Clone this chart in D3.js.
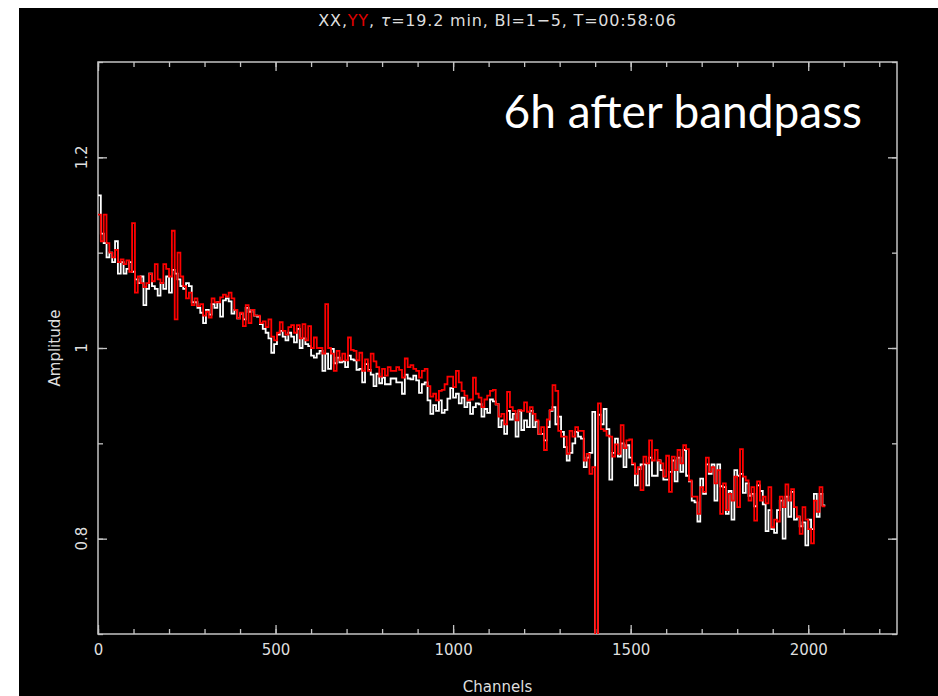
<!DOCTYPE html>
<meta charset="utf-8">
<style>
  body { margin: 0; background: #fff; }
  text { font-family: "DejaVu Sans", sans-serif; }
</style>
<script src="https://d3js.org/d3.v7.min.js"></script>
<div id="chart"></div>
<script>
  // channel bins: each value covers binWidth channels, starting at channel 0
  var binWidth = 8;
  var xxValues = [
    1.16, 1.12, 1.11, 1.095, 1.1, 1.09, 1.112, 1.078, 1.09, 1.078,
    1.083, 1.09, 1.08, 1.072, 1.068, 1.075, 1.045, 1.062, 1.078, 1.065,
    1.062, 1.055, 1.068, 1.062, 1.075, 1.058, 1.082, 1.078, 1.072, 1.065,
    1.062, 1.068, 1.065, 1.048, 1.048, 1.042, 1.037, 1.026, 1.04, 1.035,
    1.046, 1.042, 1.048, 1.033, 1.05, 1.052, 1.049, 1.036, 1.04, 1.031,
    1.036, 1.03, 1.042, 1.038, 1.04, 1.034, 1.033, 1.025, 1.02, 1.016,
    1.01, 0.995, 1.004, 1.014, 1.018, 1.012, 1.008, 1.016, 1.012, 1.006,
    1.02, 1.0, 1.01, 1.004, 1.002, 0.992, 0.99, 0.994, 0.997, 0.976,
    0.994, 0.978, 0.999, 0.984, 0.99, 0.985, 0.986, 0.98, 0.992, 0.988,
    0.987, 0.977, 0.978, 0.964, 0.983, 0.977, 0.972, 0.96, 0.973, 0.963,
    0.969, 0.962, 0.962, 0.968, 0.968, 0.964, 0.964, 0.952, 0.972, 0.968,
    0.967, 0.971, 0.966, 0.953, 0.962, 0.964, 0.945, 0.931, 0.94, 0.934,
    0.945, 0.932, 0.935, 0.947, 0.958, 0.948, 0.952, 0.942, 0.948, 0.938,
    0.943, 0.931, 0.938, 0.942, 0.941, 0.928, 0.936, 0.932, 0.946, 0.944,
    0.941, 0.917, 0.924, 0.91, 0.934, 0.925, 0.931, 0.907, 0.934, 0.914,
    0.924, 0.917, 0.934, 0.917, 0.923, 0.91, 0.91, 0.903, 0.917, 0.934,
    0.938, 0.92, 0.928, 0.912, 0.896, 0.882, 0.89, 0.9, 0.912, 0.907,
    0.905, 0.875, 0.885, 0.89, 0.933, 0.6, 0.93, 0.92, 0.936, 0.915,
    0.862, 0.89, 0.905, 0.886, 0.9, 0.875, 0.898, 0.885, 0.878, 0.856,
    0.873, 0.878, 0.878, 0.856, 0.885, 0.866, 0.866, 0.882, 0.872, 0.862,
    0.862, 0.87, 0.882, 0.86, 0.885, 0.87, 0.893, 0.866, 0.86, 0.84,
    0.838, 0.818, 0.863, 0.847, 0.878, 0.868, 0.878, 0.84, 0.878, 0.855,
    0.854, 0.826, 0.85, 0.82, 0.872, 0.866, 0.868, 0.848, 0.858, 0.845,
    0.847, 0.834, 0.856, 0.85, 0.836, 0.808, 0.83, 0.81, 0.806, 0.83,
    0.84, 0.8, 0.844, 0.823, 0.849, 0.82, 0.823, 0.813, 0.817, 0.793,
    0.82, 0.81, 0.847, 0.823, 0.847, 0.835
  ];
  var yyValues = [
    1.14, 1.112, 1.14, 1.11, 1.1, 1.095, 1.103, 1.09, 1.093, 1.088,
    1.092, 1.08, 1.131, 1.058, 1.075, 1.068, 1.064, 1.068, 1.078, 1.07,
    1.088, 1.072, 1.068, 1.088, 1.083, 1.075, 1.123, 1.03, 1.1, 1.075,
    1.065, 1.052, 1.058, 1.045, 1.052, 1.044, 1.046, 1.034, 1.038, 1.032,
    1.052, 1.048, 1.048, 1.053, 1.056, 1.054, 1.058, 1.052, 1.04, 1.031,
    1.037, 1.023, 1.045, 1.026, 1.04, 1.034, 1.034, 1.026, 1.028, 1.022,
    1.03, 1.012, 1.008, 1.016, 1.027, 1.018, 1.014, 1.022, 1.024, 1.016,
    1.024, 1.01, 1.025, 1.008, 1.023, 1.0, 1.011, 1.0, 1.0, 0.994,
    1.046, 1.0, 0.994, 0.976, 0.997, 0.987, 0.994, 0.987, 1.011, 0.998,
    0.997, 0.987, 0.995, 0.976, 0.988, 0.976, 0.994, 0.986, 0.98, 0.97,
    0.978, 0.971, 0.98, 0.976, 0.976, 0.98, 0.977, 0.969, 0.989, 0.98,
    0.982, 0.978, 0.976, 0.969, 0.976, 0.978, 0.96, 0.949, 0.952, 0.945,
    0.955, 0.956, 0.962, 0.97, 0.97, 0.959, 0.976, 0.964, 0.955, 0.95,
    0.945, 0.946, 0.969, 0.952, 0.948, 0.938, 0.946, 0.95, 0.955, 0.956,
    0.941, 0.928, 0.931, 0.92, 0.954, 0.938, 0.934, 0.924, 0.935, 0.934,
    0.943, 0.933, 0.938, 0.931, 0.924, 0.91, 0.917, 0.893, 0.925, 0.935,
    0.961, 0.955, 0.913, 0.907, 0.907, 0.889, 0.913, 0.907, 0.917, 0.913,
    0.913, 0.882, 0.889, 0.868, 0.875, 0.6, 0.942, 0.915, 0.913, 0.908,
    0.907, 0.886, 0.899, 0.889, 0.919, 0.895, 0.903, 0.904, 0.879, 0.868,
    0.875, 0.851, 0.886, 0.879, 0.903, 0.882, 0.893, 0.882, 0.879, 0.865,
    0.887, 0.849, 0.886, 0.872, 0.893, 0.879, 0.898, 0.894, 0.861, 0.844,
    0.844, 0.826, 0.854, 0.849, 0.885, 0.87, 0.875, 0.858, 0.872, 0.826,
    0.858, 0.83, 0.847, 0.84, 0.865, 0.833, 0.894, 0.865, 0.861, 0.84,
    0.854, 0.819, 0.86, 0.84, 0.844, 0.837, 0.854, 0.812, 0.82, 0.818,
    0.844, 0.833, 0.857, 0.84, 0.852, 0.833, 0.823, 0.805, 0.833, 0.82,
    0.81, 0.795, 0.84, 0.828, 0.854, 0.834
  ];
  var xMajorTicks = [0, 500, 1000, 1500, 2000];
  var yMajorTicks = [0.8, 1, 1.2];
  var yMinorTicks = [0.7, 0.8, 0.9, 1, 1.1, 1.2, 1.3];

  var W = 938, H = 696;
  var margin = { top: 62, right: 41, bottom: 62, left: 98 },
    width = W - margin.left - margin.right,
    height = H - margin.top - margin.bottom;

  var axisColor = "#c4c4c4", textColor = "#dedede";

  var root = d3.select("#chart").append("svg")
    .attr("width", W)
    .attr("height", H);

  // black slide background (white strip top / left)
  root.append("rect")
    .attr("x", 19).attr("y", 8)
    .attr("width", W - 19).attr("height", H - 8)
    .attr("fill", "#000");

  var svg = root.append("g")
    .attr("transform", "translate(" + margin.left + "," + margin.top + ")");

  var x = d3.scaleLinear().domain([0, 2250]).range([0, width]);
  var y = d3.scaleLinear().domain([0.7, 1.3]).range([height, 0]);

  svg.append("clipPath").attr("id", "clip")
    .append("rect").attr("width", width).attr("height", height);

  // ticks on all four sides, pointing inward
  function styleAxis(g) {
    g.select(".domain").remove();
    g.selectAll(".tick line").attr("stroke", axisColor).attr("stroke-width", 1.3);
    g.selectAll(".tick text").attr("fill", textColor)
      .style("font-size", "15px").style("font-family", "DejaVu Sans, sans-serif");
  }
  var xMinor = d3.range(0, 2251, 100);

  svg.append("g").attr("transform", "translate(0," + height + ")")
    .call(d3.axisBottom(x).tickValues(xMinor).tickSize(-5).tickFormat(""))
    .call(styleAxis);
  svg.append("g").attr("transform", "translate(0," + height + ")")
    .call(d3.axisBottom(x).tickValues(xMajorTicks).tickSize(-9).tickPadding(10).tickFormat(d3.format("d")))
    .call(styleAxis);
  svg.append("g")
    .call(d3.axisTop(x).tickValues(xMinor).tickSize(-5).tickFormat(""))
    .call(styleAxis);
  svg.append("g")
    .call(d3.axisTop(x).tickValues(xMajorTicks).tickSize(-9).tickFormat(""))
    .call(styleAxis);

  svg.append("g")
    .call(d3.axisLeft(y).tickValues(yMinorTicks).tickSize(-5).tickFormat(""))
    .call(styleAxis);
  svg.append("g")
    .call(d3.axisLeft(y).tickValues(yMajorTicks).tickSize(-9).tickFormat(""))
    .call(styleAxis);
  svg.append("g").attr("transform", "translate(" + width + ",0)")
    .call(d3.axisRight(y).tickValues(yMinorTicks).tickSize(-5).tickFormat(""))
    .call(styleAxis);
  svg.append("g").attr("transform", "translate(" + width + ",0)")
    .call(d3.axisRight(y).tickValues(yMajorTicks).tickSize(-9).tickFormat(""))
    .call(styleAxis);

  // rotated y tick labels
  svg.selectAll(".ylab")
    .data(yMajorTicks)
    .enter().append("text")
    .attr("class", "ylab")
    .attr("transform", function (d) { return "translate(-11," + y(d) + ") rotate(-90)"; })
    .attr("text-anchor", "middle")
    .attr("fill", textColor)
    .style("font-size", "15px")
    .text(function (d) { return String(d); });

  // frame
  svg.append("rect")
    .attr("width", width).attr("height", height)
    .attr("fill", "none")
    .attr("stroke", axisColor)
    .attr("stroke-width", 1.5);

  // spectra
  function points(vals) {
    var pts = vals.map(function (v, i) { return [i * binWidth, v]; });
    pts.push([vals.length * binWidth, vals[vals.length - 1]]);
    return pts;
  }
  var line = d3.line()
    .x(function (d) { return x(d[0]); })
    .y(function (d) { return y(d[1]); })
    .curve(d3.curveStepAfter);

  var plot = svg.append("g").attr("clip-path", "url(#clip)");
  plot.append("path")
    .datum(points(xxValues))
    .attr("d", line)
    .attr("fill", "none")
    .attr("stroke", "#ffffff")
    .attr("stroke-width", 1.8);
  plot.append("path")
    .datum(points(yyValues))
    .attr("d", line)
    .attr("fill", "none")
    .attr("stroke", "#ff0000")
    .attr("stroke-width", 1.8);

  // axis titles
  svg.append("text")
    .attr("x", width / 2)
    .attr("y", height + 58)
    .attr("text-anchor", "middle")
    .attr("fill", textColor)
    .style("font-size", "15px")
    .text("Channels");

  svg.append("text")
    .attr("transform", "translate(-38," + (height / 2) + ") rotate(-90)")
    .attr("text-anchor", "middle")
    .attr("fill", textColor)
    .style("font-size", "15px")
    .text("Amplitude");

  // plot title with coloured series names
  var title = root.append("text")
    .attr("x", margin.left + width / 2)
    .attr("y", 26)
    .attr("text-anchor", "middle")
    .attr("fill", textColor)
    .style("font-size", "16px")
    .style("letter-spacing", "0.8px");
  title.append("tspan").text("XX,");
  title.append("tspan").attr("fill", "#e00000").text("YY");
  title.append("tspan").text(", ");
  title.append("tspan").style("font-style", "italic").text("\u03C4");
  title.append("tspan").text("=19.2  min,  Bl=1\u22125,  T=00:58:06");

  // slide annotation
  root.append("text")
    .attr("x", 862)
    .attr("y", 128)
    .attr("text-anchor", "end")
    .attr("fill", "#ffffff")
    .style("font-family", "Lato, 'Open Sans', sans-serif")
    .style("font-size", "46px")
    .text("6h after bandpass");
</script>
